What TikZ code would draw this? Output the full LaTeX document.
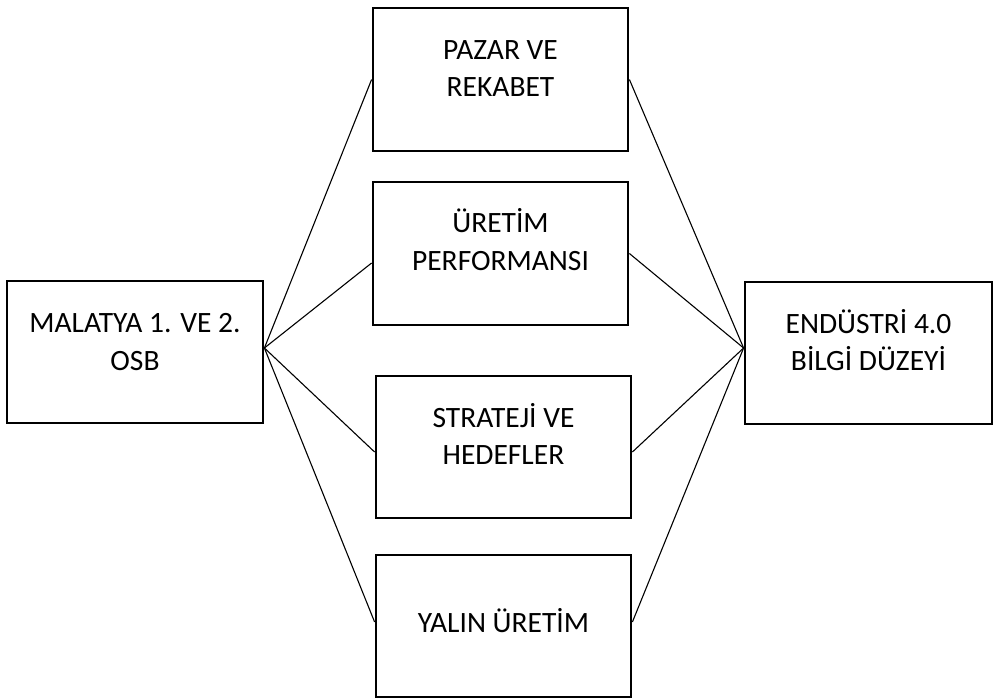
\documentclass[tikz,border=0pt]{standalone}
\usepackage{fontspec}
\setmainfont{Carlito}
\begin{document}
\begin{tikzpicture}[x=1pt,y=-1pt,
  boxnode/.style={draw, rectangle, line width=2.8pt, inner sep=0pt},
  lbl/.style={font=\fontsize{29.5}{37}\selectfont, inner sep=0pt, anchor=base},
  conn/.style={line width=1.1pt}]
\useasboundingbox (0,0) rectangle (994,698);
% boxes
\node[boxnode, minimum width=256pt, minimum height=142pt] (L) at (135,352) {};
\node[boxnode, minimum width=255pt, minimum height=143pt] (B1) at (500.5,79.5) {};
\node[boxnode, minimum width=255pt, minimum height=143pt] (B2) at (500.5,253.5) {};
\node[boxnode, minimum width=255pt, minimum height=142pt] (B3) at (503.5,447) {};
\node[boxnode, minimum width=255pt, minimum height=142pt] (B4) at (503.5,626) {};
\node[boxnode, minimum width=247pt, minimum height=142pt] (R) at (868.5,353) {};
% labels
\node[lbl] (L1) at (135,332) {MALATYA 1. VE 2.};
\node[lbl] (L2) at (135,370) {OSB};
\node[lbl] (P1) at (500.5,60) {PAZAR VE};
\node[lbl] (P2) at (500.5,97) {REKABET};
\node[lbl] (U1) at (500.5,233) {ÜRETİM};
\node[lbl] (U2) at (500.5,270) {PERFORMANSI};
\node[lbl] (S1) at (503.5,427) {STRATEJİ VE};
\node[lbl] (S2) at (503.5,464) {HEDEFLER};
\node[lbl] (Y1) at (503.5,632) {YALIN ÜRETİM};
\node[lbl] (E1) at (868.5,333) {ENDÜSTRİ 4.0};
\node[lbl] (E2) at (868.5,370) {BİLGİ DÜZEYİ};
% connectors left
\coordinate (Lp) at ([yshift=4pt]L.east);
\coordinate (Rp) at ([yshift=5pt]R.west);
\draw[conn] (Lp) -- (B1.west);
\draw[conn] (Lp) -- ([yshift=-9.5pt]B2.west);
\draw[conn] (Lp) -- ([yshift=-5pt]B3.west);
\draw[conn] (Lp) -- ([yshift=4pt]B4.west);
% connectors right
\draw[conn] (B1.east) -- (Rp);
\draw[conn] (B2.east) -- (Rp);
\draw[conn] ([yshift=-5pt]B3.east) -- (Rp);
\draw[conn] ([yshift=4pt]B4.east) -- (Rp);
\end{tikzpicture}
\end{document}
